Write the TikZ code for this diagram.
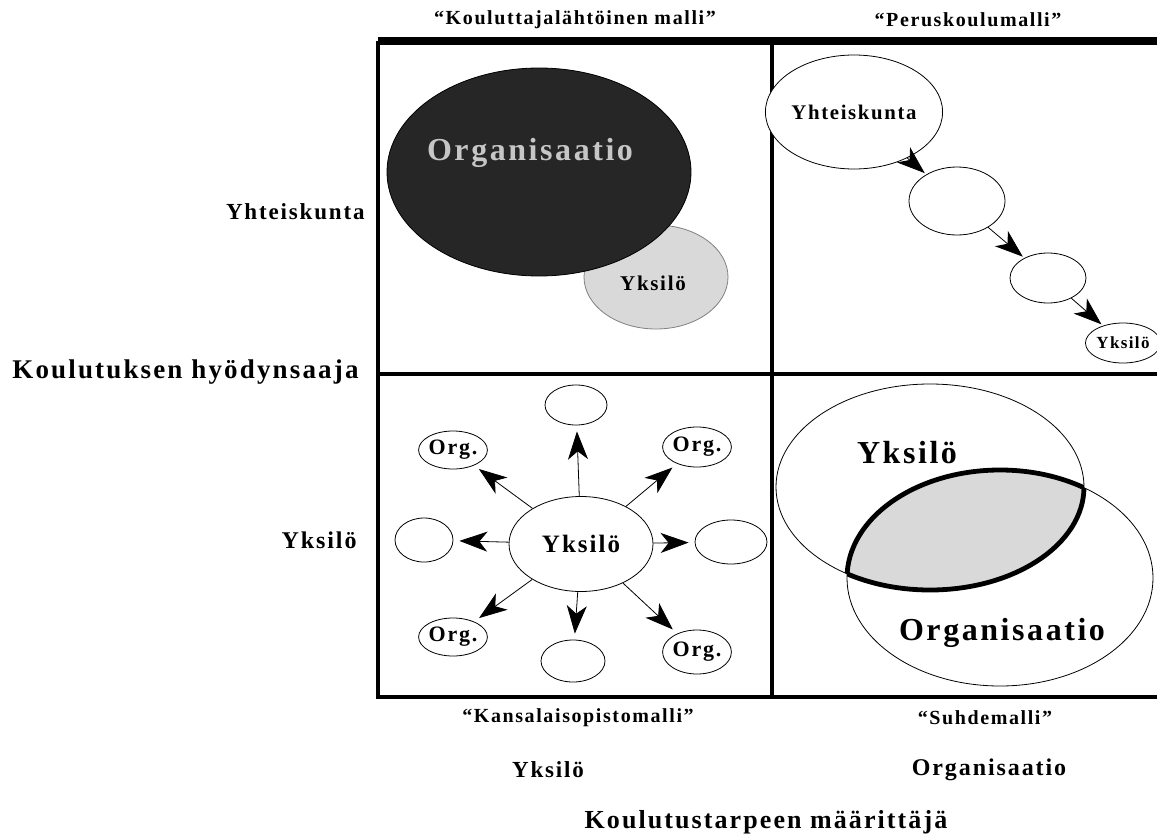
\documentclass[tikz,border=0pt]{standalone}
\usepackage{fontspec}
\setmainfont{Liberation Serif}
\newfontfamily\widefont[LetterSpace=8]{Liberation Serif}
\usetikzlibrary{arrows.meta,shapes.geometric}

\begin{document}
\begin{tikzpicture}[
  x=0.5pt, y=-0.5pt,
  lbl/.style={font=\widefont\bfseries\fontsize{#1}{#1}\selectfont, inner sep=0pt},
  ell/.style={draw, ellipse, inner sep=0pt, line width=0.4pt, fill=white},
  arr/.style={-{Stealth[length=14pt, width=10pt, inset=4pt]}, line width=0.4pt, shorten >=1pt},
  frame/.style={line width=1.6pt}
]
\useasboundingbox (0,0) rectangle (1157,835);

% frame
\coordinate (tl) at (378,41);
\coordinate (tr) at (1157,41);
\coordinate (tm) at (772,41);
\coordinate (ml) at (378,374);
\coordinate (mr) at (1157,374);
\coordinate (bl) at (378,697);
\coordinate (bm) at (772,697);
\coordinate (br) at (1157,697);
\draw[line width=4pt] (tl) -- (tr);
\draw[frame] (tl) -- (bl) -- (br);
\draw[frame] (tm) -- (bm);
\draw[frame] (ml) -- (mr);

% axis texts
\node[lbl=10] (hA) at (575,20) {“Kouluttajalähtöinen malli”};
\node[lbl=10] (hB) at (968,20) {“Peruskoulumalli”};
\node[lbl=10] (hC) at (578,718) {“Kansalaisopistomalli”};
\node[lbl=10] (hD) at (985,718) {“Suhdemalli”};
\node[lbl=11.5, anchor=east] (rowA) at (365,212) {Yhteiskunta};
\node[lbl=12, anchor=east] (rowB) at (357,540) {Yksilö};
\node[lbl=13.5, anchor=east] (rowAxis) at (359,372) {Koulutuksen hyödynsaaja};
\node[lbl=11.5] (colA) at (548,770) {Yksilö};
\node[lbl=12] (colB) at (989,770) {Organisaatio};
\node[lbl=13] (colAxis) at (766,822) {Koulutustarpeen määrittäjä};

% top left
\node[ell, draw=gray, fill=gray!30, minimum width=72pt, minimum height=52pt] (tlY) at (656,277) {};
\node[lbl=10.5] (tlYt) at (653,283) {Yksilö};
\node[ell, fill=black!85, minimum width=152pt, minimum height=104pt] (tlO) at (539,172) {};
\node[lbl=16, text=gray!45] (tlOt) at (530,153) {Organisaatio};

% top right
\node[ell, minimum width=72pt, minimum height=57pt, lbl=10.4] (c1) at (854,112) {Yhteiskunta};
\node[ell, minimum width=48pt, minimum height=34pt] (c2) at (957,201) {};
\node[ell, minimum width=38pt, minimum height=25pt] (c3) at (1048,278) {};
\node[ell, minimum width=30pt, minimum height=20pt, lbl=8.5] (c4) at (1123,343) {Yksilö};
\draw[arr] (c1) -- (c2);
\draw[arr] (c2) -- (c3);
\draw[arr] (c3) -- (c4);

% bottom left
\node[ell, minimum width=72pt, minimum height=47.5pt, lbl=12.5] (yk) at (581,544) {Yksilö};
\node[ell, minimum width=31pt, minimum height=20pt] (sN) at (576,405) {};
\node[ell, minimum width=30pt, minimum height=20pt, lbl=11] (sNE) at (697,447) {Org.};
\node[ell, minimum width=36pt, minimum height=22pt] (sE) at (731,542) {};
\node[ell, minimum width=31pt, minimum height=22pt, lbl=11] (sSE) at (697,652) {Org.};
\node[ell, minimum width=32pt, minimum height=21pt] (sS) at (573,661) {};
\node[ell, minimum width=30pt, minimum height=19pt, lbl=11] (sSW) at (453,637) {Org.};
\node[ell, minimum width=29pt, minimum height=22pt] (sW) at (424,540) {};
\node[ell, minimum width=32pt, minimum height=19pt, lbl=11] (sNW) at (453,450) {Org.};
\foreach \s in {sN,sNE,sE,sSE,sS,sSW,sW,sNW}
  \draw[arr, shorten >=3pt] (yk) -- (\s);

% bottom right
\begin{scope}
  \clip (1000,578) ellipse [x radius=76.5pt, y radius=54pt];
  \fill[gray!30] (930,487) ellipse [x radius=77pt, y radius=51.5pt];
  \draw[line width=2.4pt] (930,487) ellipse [x radius=77pt, y radius=51.5pt];
\end{scope}
\begin{scope}
  \clip (930,487) ellipse [x radius=77pt, y radius=51.5pt];
  \draw[line width=2.4pt] (1000,578) ellipse [x radius=76.5pt, y radius=54pt];
\end{scope}
\node[ell, fill=none, minimum width=154pt, minimum height=103pt] (bY) at (930,487) {};
\node[ell, fill=none, minimum width=153pt, minimum height=108pt] (bO) at (1000,578) {};
\node[lbl=16] (bYt) at (907,453) {Yksilö};
\node[lbl=16] (bOt) at (1002,633) {Organisaatio};

\end{tikzpicture}
\end{document}
